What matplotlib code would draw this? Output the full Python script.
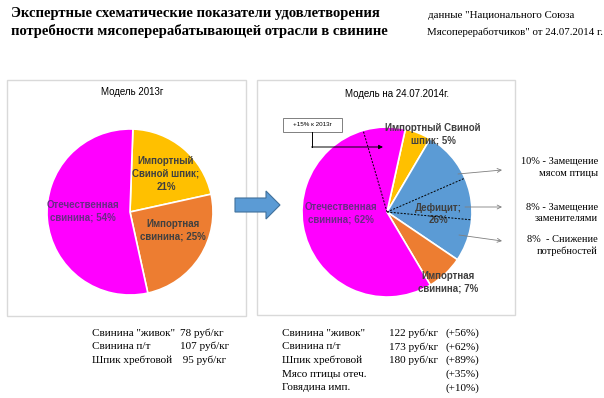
import numpy as np
import matplotlib.pyplot as plt
from matplotlib.patches import Rectangle, FancyArrow

W, H = 604, 398

# Header texts
title_lines = ['Экспертные схематические показатели удовлетворения',
               'потребности мясоперерабатывающей отрасли в свинине']
source_lines = ['данные "Национального Союза',
                'Мясопереработчиков" от 24.07.2014 г.']

# Model 2013 pie
title_2013 = 'Модель 2013г'
shares_2013 = [21, 25, 54]
labels_2013 = ['Импортный\nСвиной шпик;\n21%', 'Импортная\nсвинина; 25%',
               'Отечественная\nсвинина; 54%']

# Model 24.07.2014 pie
title_2014 = 'Модель на 24.07.2014г.'
shares_2014 = [5, 26, 7, 62]
labels_2014 = ['Импортный Свиной\nшпик; 5%', 'Дефицит;\n26%',
               'Импортная\nсвинина; 7%', 'Отечественная\nсвинина; 62%']
domestic_growth = shares_2014[3] - shares_2013[2]   # +8 p.p.
growth_note = '+15% к 2013г'

# how the deficit is covered
deficit_split = [10, 8, 8]
deficit_notes = ['10% - Замещение\nмясом птицы',
                 '8% - Замещение\nзаменителями',
                 '8%  - Снижение\nпотребностей']

# price tables
price_items_2013 = ['Свинина "живок"', 'Свинина п/т', 'Шпик хребтовой']
price_vals_2013 = ['78 руб/кг', '107 руб/кг', ' 95 руб/кг']
price_items_2014 = ['Свинина "живок"', 'Свинина п/т', 'Шпик хребтовой',
                    'Мясо птицы отеч.', 'Говядина имп.']
price_vals_2014 = ['122 руб/кг', '173 руб/кг', '180 руб/кг', '', '']
price_change_2014 = ['(+56%)', '(+62%)', '(+89%)', '(+35%)', '(+10%)']

c_yellow = '#FFC000'
c_orange = '#ED7D31'
c_magenta = '#FF00FF'
c_blue = '#5B9BD5'
lbl_color = '#404040'
dom_color = '#6A2A86'

serif = 'Liberation Serif'
sans = 'Liberation Sans'


def Y(y):
    return H - y


fig = plt.figure(figsize=(W / 100, H / 100), dpi=100)
ax = fig.add_axes([0, 0, 1, 1])

# panel frames
for x0, y0, x1, y1 in [(7, 80, 246, 316), (257, 80, 515, 315)]:
    ax.add_patch(Rectangle((x0, Y(y1)), x1 - x0, y1 - y0, facecolor='white',
                           edgecolor='#D9D9D9', lw=1.0, zorder=0))

# ---- left pie
c1, r1 = (130, 212), 83
ax.pie(shares_2013, colors=[c_yellow, c_orange, c_magenta], startangle=88,
       counterclock=False, center=(c1[0], Y(c1[1])), radius=r1,
       wedgeprops=dict(edgecolor='white', linewidth=1.2))
offs_2013 = [(36, -38), (43, 18), (-47, -1)]
for i, (lab, (dx, dy)) in enumerate(zip(labels_2013, offs_2013)):
    ax.text(c1[0] + dx, Y(c1[1] + dy), lab, ha='center', va='center',
            fontsize=7, family=sans, linespacing=1.35, fontweight='bold',
            color=dom_color if i == 2 else lbl_color)
ax.text(132, Y(92), title_2013, ha='center', va='center', fontsize=7,
        family=sans)

# ---- right pie
c2, r2 = (387, 212), 85
start2 = 77.5
ax.pie(shares_2014, colors=[c_yellow, c_blue, c_orange, c_magenta],
       startangle=start2, counterclock=False, center=(c2[0], Y(c2[1])),
       radius=r2, wedgeprops=dict(edgecolor='white', linewidth=1.2))
offs_2014 = [(46, -78), (51, 2), (61, 70), (-46, 1.5)]
for i, (lab, (dx, dy)) in enumerate(zip(labels_2014, offs_2014)):
    ax.text(c2[0] + dx, Y(c2[1] + dy), lab, ha='center', va='center',
            fontsize=7, family=sans, linespacing=1.35, fontweight='bold',
            color=dom_color if i == 3 else lbl_color)
ax.text(397, Y(94), title_2014, ha='center', va='center', fontsize=7,
        family=sans)

# dotted split lines
blue_start = start2 - shares_2014[0] * 3.6
split_angles = [blue_start - np.cumsum(deficit_split)[k] * 3.6 for k in range(2)]
split_angles.append(start2 + domestic_growth * 3.6)
for a in split_angles:
    t = np.deg2rad(a)
    ax.plot([c2[0], c2[0] + r2 * np.cos(t)],
            [Y(c2[1]), Y(c2[1]) + r2 * np.sin(t)],
            color='black', lw=0.7, ls=(0, (2, 1.5)), zorder=5)

# "+15%" note box with connector
ax.add_patch(Rectangle((283, Y(132)), 59, 14, facecolor='white',
                       edgecolor='#808080', lw=0.7, zorder=6))
ax.text(312.5, Y(125), growth_note, ha='center', va='center', fontsize=4.5,
        family=sans, zorder=7)
ax.plot([312, 312], [Y(132), Y(147)], color='black', lw=0.7, zorder=6)
ax.annotate('', xy=(383, Y(147)), xytext=(311.6, Y(147)),
            arrowprops=dict(arrowstyle='-|>', color='black', lw=0.7,
                            mutation_scale=6, shrinkA=0, shrinkB=0),
            zorder=6)

# deficit notes with arrows
arrows = [((458, 174), (502, 170)), ((465, 207), (502, 207)),
          ((459, 235), (502, 241))]
note_y = [167.5, 213, 245.5]
for (p0, p1), note, ny in zip(arrows, deficit_notes, note_y):
    ax.annotate('', xy=(p1[0], Y(p1[1])), xytext=(p0[0], Y(p0[1])),
                arrowprops=dict(arrowstyle='->', color='#7F7F7F', lw=0.6,
                                mutation_scale=7, shrinkA=0, shrinkB=0),
                zorder=6)
    ax.text(598, Y(ny), note, ha='right', va='center', multialignment='right',
            fontsize=7.5, family=serif, linespacing=1.35)

# big blue arrow between panels
ax.add_patch(FancyArrow(235, Y(205), 45, 0, width=14, head_width=28,
                        head_length=14, length_includes_head=True,
                        facecolor=c_blue, edgecolor='#41719C', lw=0.8,
                        zorder=8))

# header
for k, line in enumerate(title_lines):
    ax.text(11, Y(14 + 17.5 * k), line, ha='left', va='center', fontsize=10.5,
            family=serif, fontweight='bold')
ax.text(428, Y(15), source_lines[0], ha='left', va='center', fontsize=7.8,
        family=serif)
ax.text(427, Y(32), source_lines[1], ha='left', va='center', fontsize=7.8,
        family=serif)

# price tables
for k, (it, v) in enumerate(zip(price_items_2013, price_vals_2013)):
    yy = Y(333 + 13.5 * k)
    ax.text(92, yy, it, ha='left', va='center', fontsize=8, family=serif)
    ax.text(180, yy, v, ha='left', va='center', fontsize=8, family=serif)
for k, (it, v, ch) in enumerate(zip(price_items_2014, price_vals_2014,
                                    price_change_2014)):
    yy = Y(333 + 13.75 * k)
    ax.text(282, yy, it, ha='left', va='center', fontsize=8, family=serif)
    ax.text(438, yy, v, ha='right', va='center', fontsize=8, family=serif)
    ax.text(445, yy, ch, ha='left', va='center', fontsize=8, family=serif)

ax.set_xlim(0, W)
ax.set_ylim(0, H)
ax.set_aspect('equal')
ax.axis('off')

fig.savefig('out.png', dpi=100)
